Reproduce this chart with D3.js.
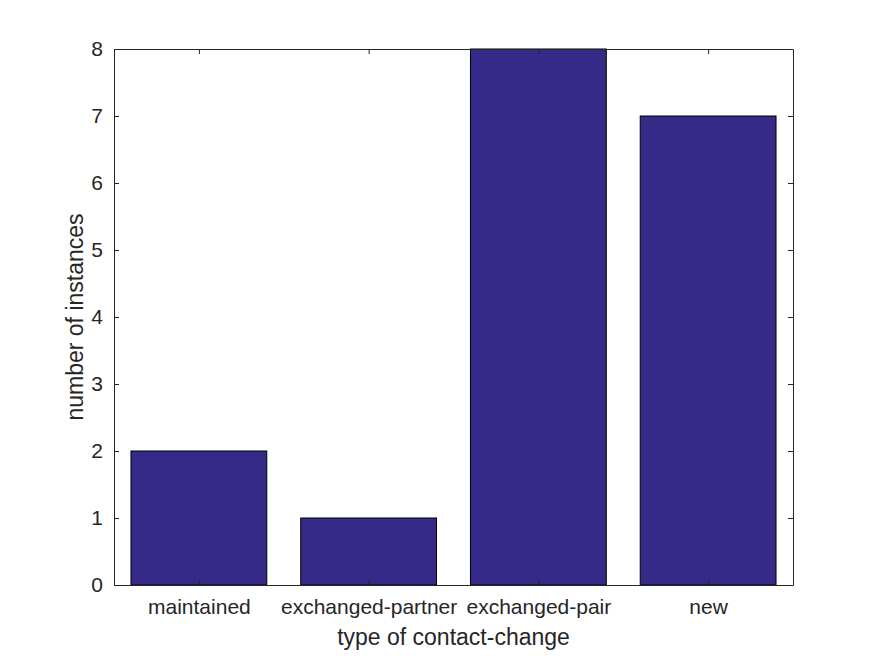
<!DOCTYPE html>
<html><head><meta charset="utf-8">
<script src="https://cdn.jsdelivr.net/npm/d3@7"></script>
<style>body{margin:0;background:#fff}svg{display:block}text{font-family:"Liberation Sans",Arial,sans-serif;fill:#262626}</style>
</head><body><svg id="c" width="875" height="656"></svg>
<script>
const categories = ["maintained","exchanged-partner","exchanged-pair","new"];
const values = [2,1,8,7];
const yTicks = [0,1,2,3,4,5,6,7,8];

const L=114,R=793,T=49,B=585;
const svg=d3.select("#c");
svg.append("rect").attr("width",875).attr("height",656).attr("fill","#fff");
const x=d3.scaleLinear().domain([0.5,categories.length+0.5]).range([L,R]);
const y=d3.scaleLinear().domain([0,8]).range([B,T]);
const bw=(x(1.4)-x(0.6));
const g=svg.append("g");
g.selectAll("rect.bar").data(values).join("rect").attr("class","bar")
 .attr("x",(d,i)=>x(i+1)-bw/2).attr("width",bw)
 .attr("y",d=>y(d)).attr("height",d=>y(0)-y(d))
 .attr("fill","#352A87").attr("stroke","#000").attr("stroke-width",1);

const tl=5;
const xb=d3.axisBottom(x).tickValues(categories.map((c,i)=>i+1)).tickFormat((d)=>categories[d-1]).tickSizeInner(-tl).tickSizeOuter(0).tickPadding(14);
const xt=d3.axisTop(x).tickValues(categories.map((c,i)=>i+1)).tickFormat("").tickSizeInner(-tl).tickSizeOuter(0);
const yl=d3.axisLeft(y).tickValues(yTicks).tickSizeInner(-tl).tickSizeOuter(0).tickPadding(11);
const yr=d3.axisRight(y).tickValues(yTicks).tickFormat("").tickSizeInner(-tl).tickSizeOuter(0);
function style(sel){sel.attr("font-size",null).attr("font-family",null);sel.selectAll("path,line").attr("stroke","#262626").attr("stroke-width",1);sel.selectAll("text").style("font-size","21px").attr("fill","#262626").style("font-family","'Liberation Sans',Arial,sans-serif");}
svg.append("g").attr("transform",`translate(0,${B})`).call(xb).call(style);
svg.append("g").attr("transform",`translate(0,${T})`).call(xt).call(style);
svg.append("g").attr("transform",`translate(${L},0)`).call(yl).call(style);
svg.append("g").attr("transform",`translate(${R},0)`).call(yr).call(style);

svg.append("text").attr("x",(L+R)/2).attr("y",645).attr("text-anchor","middle").style("font-size","23px").text("type of contact-change");
svg.append("text").attr("transform",`translate(83,${(T+B)/2}) rotate(-90)`).attr("text-anchor","middle").style("font-size","23px").text("number of instances");
</script></body></html>
